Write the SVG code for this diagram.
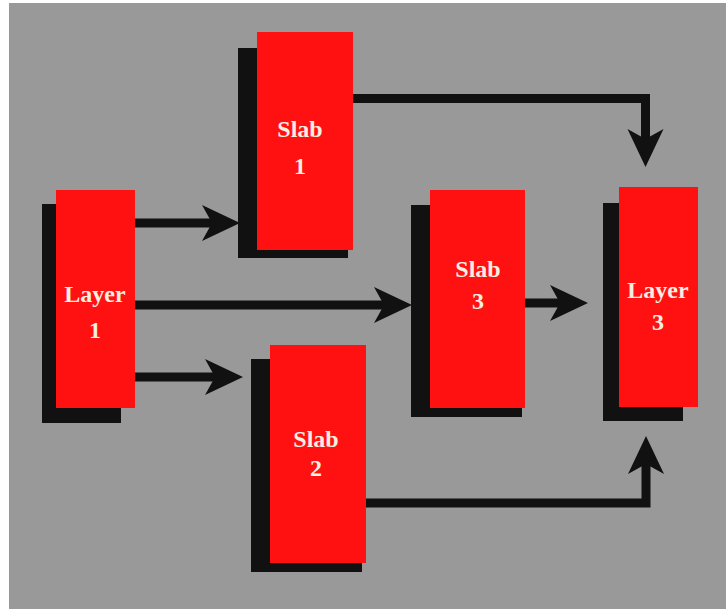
<svg xmlns="http://www.w3.org/2000/svg" width="726" height="609" viewBox="0 0 726 609">
<style>
.shadow{fill:#111111}
.box{fill:#ff1111}
.lbl{font-family:"Liberation Serif","Times New Roman",serif;font-weight:bold;font-size:24px;fill:#f6eee0;text-anchor:middle}
.conn{fill:none;stroke:#111111;stroke-width:9;stroke-linejoin:miter}
</style>
<defs>
<marker id="ah" markerUnits="userSpaceOnUse" viewBox="0 -19 40 38" refX="10" refY="0" markerWidth="40" markerHeight="38" orient="auto" overflow="visible">
<path d="M0,-18 L38,0 L0,18 L10,0 Z" fill="#111111"/>
</marker>
</defs>
<rect x="0" y="0" width="726" height="609" fill="#ffffff"/>
<rect x="9" y="3" width="717" height="606" fill="#999999"/>
<g id="connectors">
<path class="conn" d="M135,223 H212" marker-end="url(#ah)"/>
<path class="conn" d="M135,305 H384" marker-end="url(#ah)"/>
<path class="conn" d="M135,377 H215" marker-end="url(#ah)"/>
<path class="conn" d="M525,303 H560" marker-end="url(#ah)"/>
<path class="conn" d="M353,98.5 H645.5 V139" marker-end="url(#ah)"/>
<path class="conn" d="M366,503 H646 V464" marker-end="url(#ah)"/>
</g>
<g id="layer1">
<rect class="shadow" x="42" y="204" width="79" height="219"/>
<rect class="box" x="56" y="190" width="79" height="218"/>
<text class="lbl" x="95" y="302">Layer</text>
<text class="lbl" x="95" y="338">1</text>
</g>
<g id="slab1">
<rect class="shadow" x="238" y="48" width="110" height="210"/>
<rect class="box" x="257" y="32" width="96" height="218"/>
<text class="lbl" x="300" y="137">Slab</text>
<text class="lbl" x="300" y="174">1</text>
</g>
<g id="slab3">
<rect class="shadow" x="411" y="205" width="111" height="212"/>
<rect class="box" x="430" y="190" width="95" height="218"/>
<text class="lbl" x="478" y="277">Slab</text>
<text class="lbl" x="478" y="309">3</text>
</g>
<g id="layer3">
<rect class="shadow" x="603" y="203" width="80" height="218"/>
<rect class="box" x="619" y="187" width="79" height="220"/>
<text class="lbl" x="658" y="298">Layer</text>
<text class="lbl" x="658" y="330">3</text>
</g>
<g id="slab2">
<rect class="shadow" x="251" y="359" width="111" height="213"/>
<rect class="box" x="270" y="345" width="96" height="218"/>
<text class="lbl" x="316" y="447">Slab</text>
<text class="lbl" x="316" y="476">2</text>
</g>
</svg>
